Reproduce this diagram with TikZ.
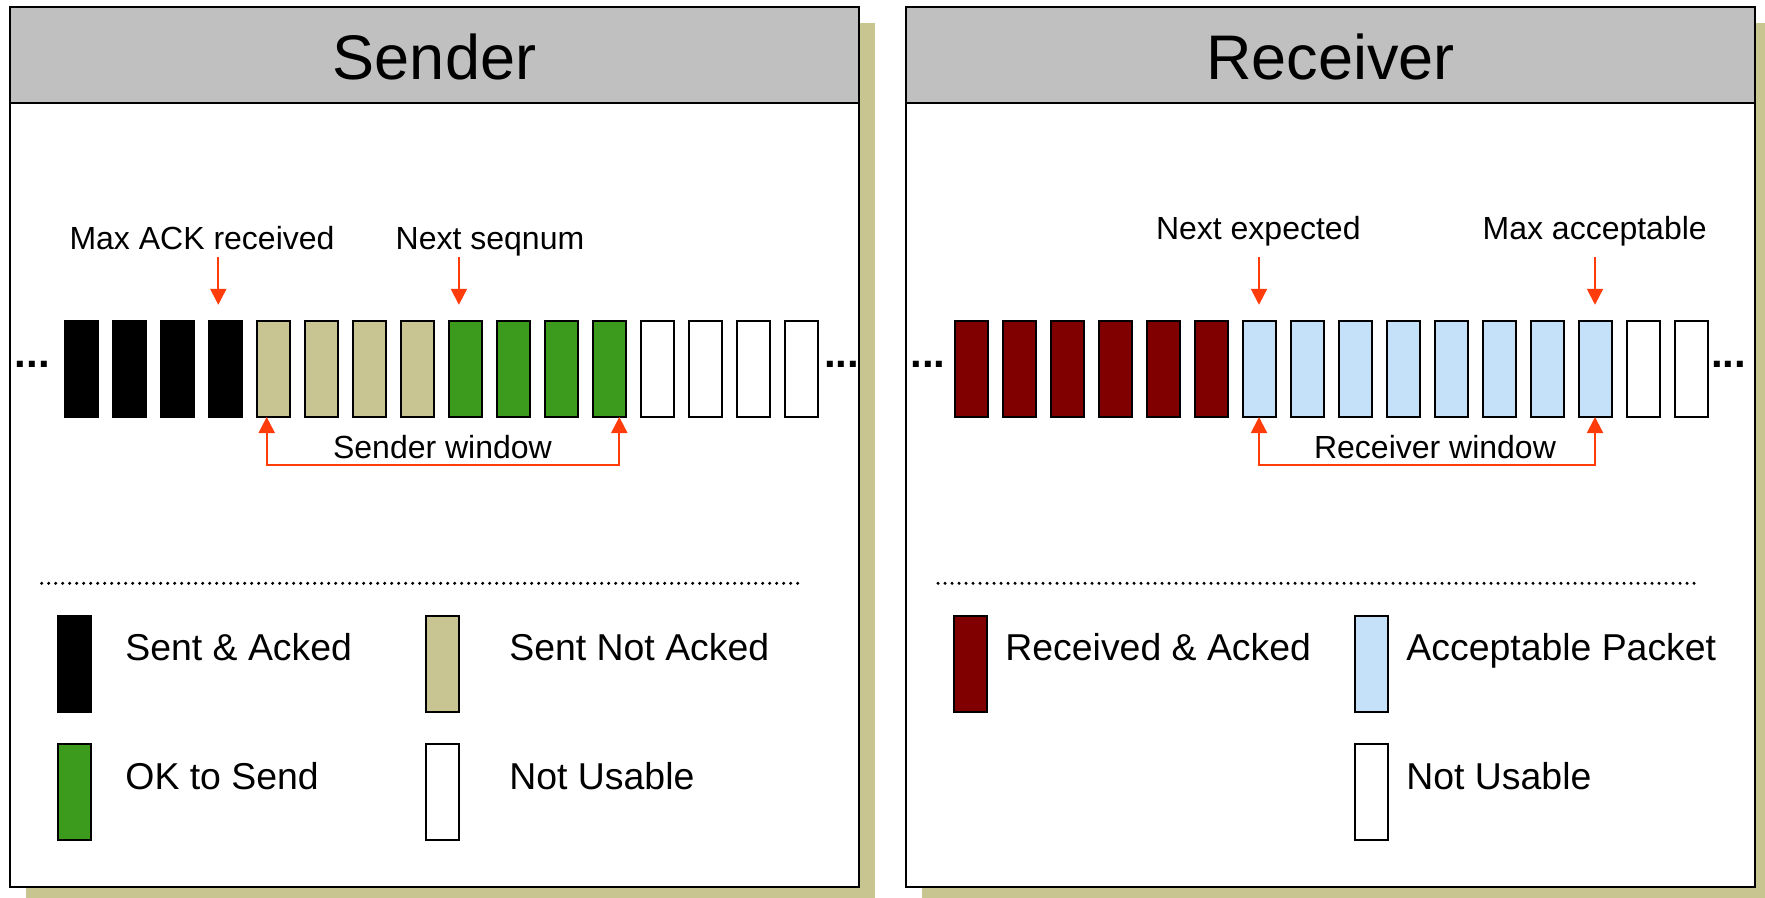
\documentclass[tikz,border=0pt]{standalone}
\usepackage{fontspec}
\setmainfont{Liberation Sans}
\usetikzlibrary{arrows.meta}
\definecolor{hdrgray}{RGB}{192,192,192}
\definecolor{shadowtan}{RGB}{200,197,145}
\definecolor{pkttan}{RGB}{200,197,147}
\definecolor{pktgreen}{RGB}{60,154,28}
\definecolor{pktred}{RGB}{128,0,0}
\definecolor{pktblue}{RGB}{197,225,250}
\definecolor{ptrred}{RGB}{255,60,10}

\begin{document}
\begin{tikzpicture}[x=0.5pt,y=-0.5pt,
  pkt/.style={draw=black,line width=1pt,minimum width=16.5pt,minimum height=48pt,inner sep=0pt,outer sep=0pt},
  panel/.style={draw=black,line width=1pt},
  title/.style={font=\fontsize{31.5}{36}\selectfont,anchor=base,inner sep=0pt},
  ptrlabel/.style={font=\fontsize{16}{19}\selectfont,anchor=base,inner sep=0pt},
  legtext/.style={font=\fontsize{18.7}{22}\selectfont,anchor=base west,inner sep=0pt},
  ellip/.style={font=\fontsize{21}{24}\selectfont\bfseries,anchor=base,inner sep=0pt},
  ptrarrow/.style={draw=ptrred,line width=1pt,-{Triangle[width=8pt,length=8pt]}},
  winarrow/.style={draw=ptrred,line width=1pt,{Triangle[width=8pt,length=8pt]}-{Triangle[width=8pt,length=8pt]}},
  sepline/.style={line width=1.7pt,line cap=round,dash pattern=on 0pt off 3.5pt}
]
\useasboundingbox (0,0) rectangle (1765,898);
\clip (0,0) rectangle (1765,898);

% drop shadows behind both panels
\fill[shadowtan] (25.5,22.8) rectangle (874.5,910);
\fill[shadowtan] (921.5,22.8) rectangle (1775,910);

% panels with grey headers
\filldraw[panel,fill=white] (10,7.5) rectangle (859,887);
\filldraw[panel,fill=hdrgray] (10,7.5) rectangle (859,103.5);
\filldraw[panel,fill=white] (906,7.5) rectangle (1755,887);
\filldraw[panel,fill=hdrgray] (906,7.5) rectangle (1755,103.5);

\node[title] (sendtitle) at (434.5,80) {Sender};
\node[title] (recvtitle) at (1330.5,80) {Receiver};

% ---------------- sender sequence space ----------------
\foreach \i/\c in {1/black,2/black,3/black,4/black,5/pkttan,6/pkttan,7/pkttan,8/pkttan,
                   9/pktgreen,10/pktgreen,11/pktgreen,12/pktgreen,13/white,14/white,15/white,16/white}
  \node[pkt,fill=\c] (s\i) at ({33.3+48*\i},369) {};

\node[ellip] (sdotsL) at (32.5,367.3) {...};
\node[ellip] (sdotsR) at (841.5,367.3) {...};

\node[ptrlabel] (maxack) at (202,250) {Max ACK received};
\node[ptrlabel] (nextseq) at (490,250) {Next seqnum};
\draw[ptrarrow] ([xshift=-3.5pt,yshift=31.9pt]s4.north) -- ([xshift=-3.5pt,yshift=8.1pt]s4.north);
\draw[ptrarrow] ([xshift=-3.2pt,yshift=31.9pt]s9.north) -- ([xshift=-3.2pt,yshift=8.1pt]s9.north);

\coordinate (swl) at ([xshift=-3.3pt]s5.south);
\coordinate (swr) at ([xshift=5pt]s12.south);
\draw[winarrow] (swl) -- ++(0,47.5) -| (swr);
\node[ptrlabel] (swin) at (442.5,458.3) {Sender window};

% ---------------- receiver sequence space ----------------
\foreach \i/\c in {1/pktred,2/pktred,3/pktred,4/pktred,5/pktred,6/pktred,7/pktblue,8/pktblue,
                   9/pktblue,10/pktblue,11/pktblue,12/pktblue,13/pktblue,14/pktblue,15/white,16/white}
  \node[pkt,fill=\c] (r\i) at ({923+48*\i},369) {};

\node[ellip] (rdotsL) at (928,367.3) {...};
\node[ellip] (rdotsR) at (1728.5,367.3) {...};

\node[ptrlabel] (nextexp) at (1258.3,240) {Next expected};
\node[ptrlabel] (maxacc) at (1594.7,240) {Max acceptable};
\draw[ptrarrow] ([yshift=31.9pt]r7.north) -- ([yshift=8.1pt]r7.north);
\draw[ptrarrow] ([yshift=31.9pt]r14.north) -- ([yshift=8.1pt]r14.north);

\draw[winarrow] (r7.south) -- ++(0,47.5) -| (r14.south);
\node[ptrlabel] (rwin) at (1435,458.3) {Receiver window};

% ---------------- legends ----------------
\draw[sepline] (41.7,583.3) -- (803.7,583.3);
\draw[sepline] (938,583.3) -- (1701,583.3);

\node[pkt,fill=black] (lsa) at (74.7,663.7) {};
\node[pkt,fill=pktgreen] (lok) at (74.7,791.7) {};
\node[pkt,fill=pkttan] (lsn) at (442.5,663.7) {};
\node[pkt,fill=white] (lnu) at (442.5,791.7) {};
\node[legtext] (tsa) at (125,660.7) {Sent \& Acked};
\node[legtext] (tok) at (125,789.3) {OK to Send};
\node[legtext] (tsn) at (509,660.7) {Sent Not Acked};
\node[legtext] (tnu) at (509,789.3) {Not Usable};

\node[pkt,fill=pktred] (lra) at (970.7,663.7) {};
\node[pkt,fill=pktblue] (lap) at (1371,663.7) {};
\node[pkt,fill=white] (lrn) at (1371,791.7) {};
\node[legtext] (tra) at (1005,660.7) {Received \& Acked};
\node[legtext] (tap) at (1406,660.7) {Acceptable Packet};
\node[legtext] (trn) at (1406,789.3) {Not Usable};
\end{tikzpicture}
\end{document}
